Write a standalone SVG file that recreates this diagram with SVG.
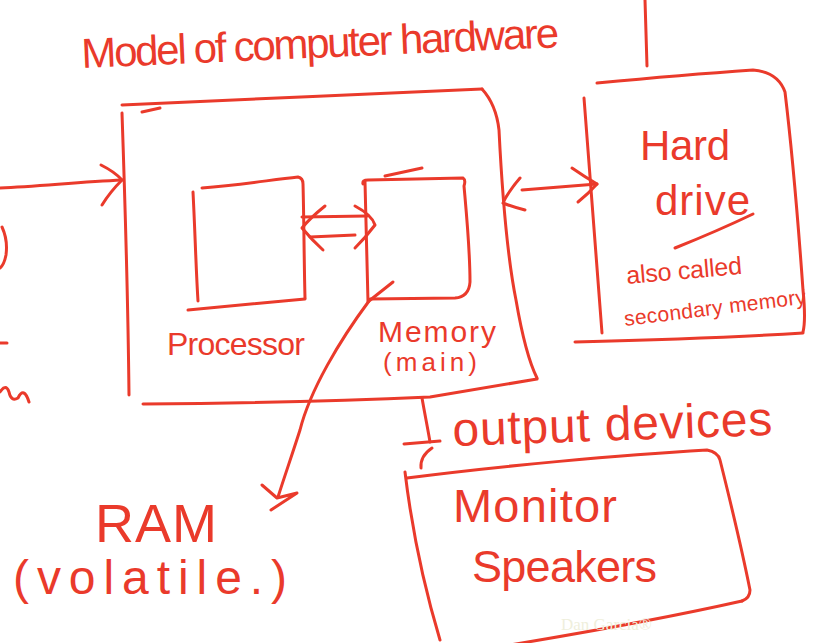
<svg xmlns="http://www.w3.org/2000/svg" width="817" height="643" viewBox="0 0 817 643">
  <defs>
    <style>
      .ink { fill: none; stroke: #ea3a2b; stroke-width: 3; stroke-linecap: round; stroke-linejoin: round; }
      .hand { font-family: "Liberation Sans", "Open Sans", sans-serif; fill: #ea3a2b; }
      .mark { font-family: "Liberation Serif", serif; fill: #efefdc; font-size: 17px; }
    </style>
  </defs>
  <rect width="817" height="643" fill="#ffffff"/>

  <!-- heading -->
  <g id="title">
    <text class="hand" x="82" y="68" font-size="42" textLength="478" transform="rotate(-2.5 82 68)">Model of computer hardware</text>
  </g>

  <!-- computer: processor + main memory -->
  <g id="computer">
    <path class="ink" d="M122,105 C220,100 380,94 482,89"/>
    <path class="ink" d="M142,112 L160,108"/>
    <path class="ink" d="M482,89 C492,100 497,112 499,130 C502,190 508,260 516,300 C522,335 528,360 537,378"/>
    <path class="ink" d="M143,404 Q300,403 430,397 L537,379"/>
    <path class="ink" d="M122,113 C125,200 128,300 129,395"/>
  </g>

  <g id="processor">
    <path class="ink" d="M202,188 C240,185 270,180 298,177 Q303,178 303,184 C304,220 304,260 305,298"/>
    <path class="ink" d="M188,310 C230,306 270,302 305,299"/>
    <path class="ink" d="M193,192 C195,230 196,270 198,301"/>
    <text class="hand" x="167" y="355" font-size="32" textLength="138">Processor</text>
  </g>

  <g id="memory">
    <path class="ink" d="M363,184 Q362,180 368,180 L463,178 Q466,180 464,186 C467,220 470,250 470,282 Q469,297 455,298 L370,299"/>
    <path class="ink" d="M385,176 L422,168"/>
    <path class="ink" d="M365,182 L368,302"/>
    <text class="hand" x="378" y="342" font-size="30" textLength="118">Memory</text>
    <text class="hand" x="383" y="371" font-size="26" textLength="94">(main)</text>
  </g>

  <g id="hard-drive">
    <path class="ink" d="M597,83 C650,78 710,73 753,70 Q778,72 785,92 C792,150 798,220 803,290 Q806,320 803,332"/>
    <path class="ink" d="M575,342 C650,340 720,338 803,333"/>
    <path class="ink" d="M584,98 C590,180 596,260 602,333"/>
    <text class="hand" x="640" y="160" font-size="42" textLength="90">Hard</text>
    <text class="hand" x="655" y="215" font-size="42" textLength="95">drive</text>
    <path class="ink" d="M675,248 C700,238 730,225 753,214"/>
    <text class="hand" x="627" y="284" font-size="25" textLength="116" transform="rotate(-5 627 284)">also called</text>
    <text class="hand" x="625" y="326" font-size="21" textLength="183" transform="rotate(-7 625 326)">secondary memory</text>
  </g>

  <g id="output-devices">
    <text class="hand" x="453" y="446" font-size="48" textLength="320" transform="rotate(-2 453 446)">output devices</text>
    <path class="ink" d="M407,478 C500,466 620,455 707,450 Q718,452 720,460 C730,500 742,550 750,590 Q750,598 742,601"/>
    <path class="ink" d="M742,601 C680,615 600,630 510,645"/>
    <path class="ink" d="M405,472 C412,530 425,590 440,640"/>
    <text class="hand" x="453" y="522" font-size="47" textLength="164">Monitor</text>
    <text class="hand" x="472" y="582" font-size="45" textLength="185">Speakers</text>
  </g>

  <g id="ram">
    <text class="hand" x="95" y="542" font-size="54" textLength="122">RAM</text>
    <text class="hand" x="13" y="594" font-size="48" textLength="274">(volatile.)</text>
  </g>

  <!-- partial strokes running off the left edge -->
  <g id="left-edge">
    <path class="ink" d="M2,227 Q8,240 6,255 Q4,265 0,268"/>
    <path class="ink" d="M0,343 L7,343"/>
    <path class="ink" d="M0,392 Q6,383 9,392 Q11,402 18,398 Q24,386 29,402"/>
  </g>

  <g id="connectors">
    <!-- input into the computer -->
    <path class="ink" d="M0,188 C40,186 80,182 122,180"/>
    <path class="ink" d="M101,165 Q115,172 122,180 Q110,192 102,205"/>
    <!-- processor <-> memory -->
    <path class="ink" d="M302,217 L367,216"/>
    <path class="ink" d="M310,237 L355,235"/>
    <path class="ink" d="M325,206 Q310,218 302,228 Q312,240 323,250"/>
    <path class="ink" d="M355,206 Q372,215 375,225 Q366,237 355,248"/>
    <!-- computer <-> hard drive -->
    <path class="ink" d="M522,190 L597,184"/>
    <path class="ink" d="M520,178 Q508,192 503,203 Q513,207 525,210"/>
    <path class="ink" d="M572,168 Q585,177 597,184 Q588,194 578,202"/>
    <!-- line from above into the hard drive -->
    <path class="ink" d="M645,0 L647,66"/>
    <!-- memory -> RAM -->
    <path class="ink" d="M369,301 C340,340 310,390 300,430 C292,455 285,475 278,497"/>
    <path class="ink" d="M393,282 L369,301"/>
    <path class="ink" d="M262,485 L277,498 L297,493 L271,510"/>
    <!-- computer -> output devices -->
    <path class="ink" d="M422,398 C425,415 428,430 430,442"/>
    <path class="ink" d="M404,444 L440,441"/>
    <path class="ink" d="M432,448 Q420,456 421,468"/>
  </g>

  <text class="mark" x="561" y="630">Dan Garcia®</text>
</svg>
